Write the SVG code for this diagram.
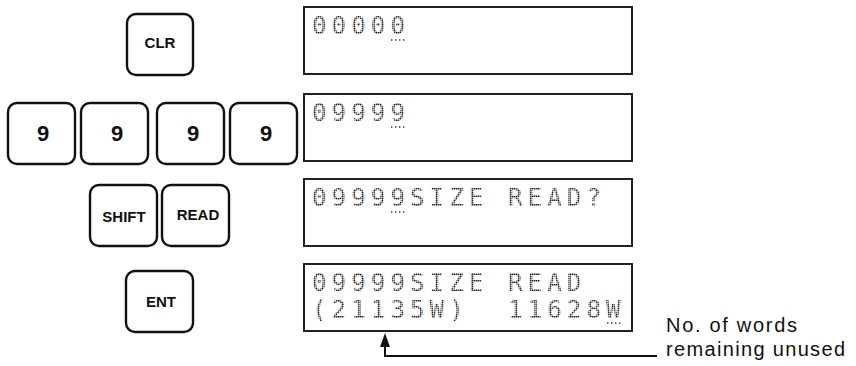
<svg xmlns="http://www.w3.org/2000/svg" width="856" height="366" viewBox="0 0 856 366">
<defs>
<style>
.key{fill:#fff;stroke:#111;stroke-width:2.4}
.kt{font-family:"Liberation Sans",Arial,sans-serif;font-weight:bold;fill:#111;text-anchor:middle}
.disp{fill:#fff;stroke:#222;stroke-width:2}
.lcd{font-family:"DejaVu Sans Mono",monospace;font-size:24px;letter-spacing:5.15px;fill:url(#dots);white-space:pre}
.cur{stroke:#333;stroke-width:1.4;stroke-dasharray:1.4 2.6}
.lbl{font-family:"Liberation Sans",Arial,sans-serif;font-size:20px;fill:#111}
.conn{fill:none;stroke:#111;stroke-width:2}
</style>
<pattern id="dots" width="2" height="2" patternUnits="userSpaceOnUse"><rect width="1.5" height="1.5" fill="#222"/></pattern>
</defs>

<g id="key-clr"><rect class="key" x="127" y="14" width="66" height="61" rx="9"/><text class="kt" x="160" y="48" font-size="15">CLR</text></g>
<g id="key-9a"><rect class="key" x="8" y="103" width="67" height="61" rx="9"/><text class="kt" x="43" y="141" font-size="22">9</text></g>
<g id="key-9b"><rect class="key" x="81" y="103" width="67" height="61" rx="9"/><text class="kt" x="117" y="141" font-size="22">9</text></g>
<g id="key-9c"><rect class="key" x="157" y="103" width="67" height="61" rx="9"/><text class="kt" x="193" y="141" font-size="22">9</text></g>
<g id="key-9d"><rect class="key" x="230" y="103" width="67" height="61" rx="9"/><text class="kt" x="266" y="141" font-size="22">9</text></g>
<g id="key-shift"><rect class="key" x="90" y="185" width="67" height="61" rx="9"/><text class="kt" x="124" y="222" font-size="15">SHIFT</text></g>
<g id="key-read"><rect class="key" x="162" y="185" width="67" height="61" rx="9"/><text class="kt" x="198" y="220" font-size="15">READ</text></g>
<g id="key-ent"><rect class="key" x="126" y="271" width="67" height="61" rx="9"/><text class="kt" x="161" y="307" font-size="15">ENT</text></g>

<g id="display-1"><rect class="disp" x="304" y="7" width="328" height="67"/><text class="lcd" x="312" y="34">00000</text><line class="cur" x1="391" y1="40" x2="407" y2="40"/></g>
<g id="display-2"><rect class="disp" x="304" y="94" width="328" height="67"/><text class="lcd" x="312" y="121">09999</text><line class="cur" x1="391" y1="127" x2="407" y2="127"/></g>
<g id="display-3"><rect class="disp" x="304" y="179" width="328" height="67"/><text class="lcd" x="312" y="206">09999SIZE READ?</text><line class="cur" x1="391" y1="212" x2="407" y2="212"/></g>
<g id="display-4"><rect class="disp" x="304" y="264" width="328" height="67"/><text class="lcd" x="312" y="291">09999SIZE READ</text><text class="lcd" x="312" y="318" xml:space="preserve">(21135W)  11628W</text><line class="cur" x1="607" y1="323" x2="623" y2="323"/></g>

<g id="connectors">
<polyline class="conn" points="657,356 385,356 385,344"/>
<polygon points="385,333 380,347 390,347" fill="#111"/>
</g>

<g id="label"><text class="lbl" x="666" y="332" textLength="131" lengthAdjust="spacing">No. of words</text><text class="lbl" x="666" y="356" textLength="179" lengthAdjust="spacing">remaining unused</text></g>
</svg>
